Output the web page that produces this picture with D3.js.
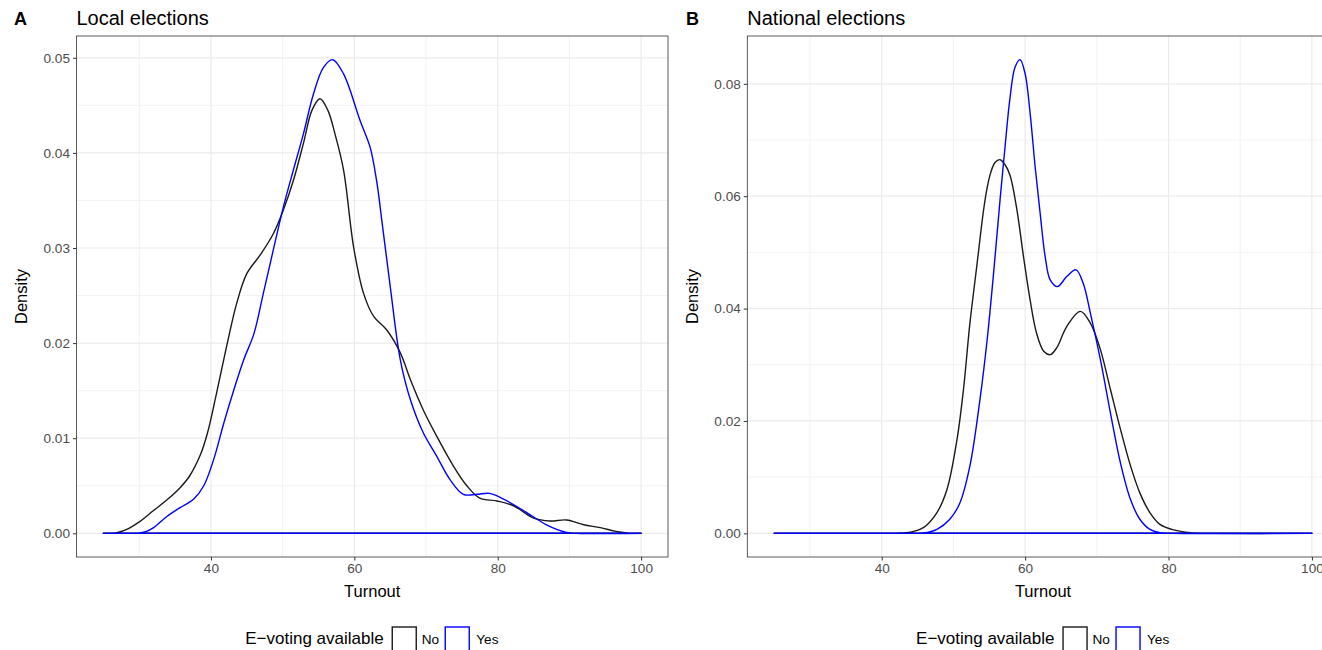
<!DOCTYPE html>
<html>
<head>
<meta charset="utf-8">
<script src="https://cdn.jsdelivr.net/npm/d3@7"></script>
<style>
  html, body { margin: 0; padding: 0; background: #fff; }
  svg { display: block; }
  text { font-family: "Liberation Sans", Arial, Helvetica, sans-serif; }
</style>
</head>
<body>
<svg id="chart" width="1322" height="650"></svg>
<script>
// ---------- data ----------
const groups = ["No", "Yes"];
const groupColors = ["#1a1a1a", "#0000ff"];
const xTicks = [40, 60, 80, 100];
const xMinorTicks = [30, 50, 70, 90];
const localYTicks = [0, 0.01, 0.02, 0.03, 0.04, 0.05];
const nationalYTicks = [0, 0.02, 0.04, 0.06, 0.08];

// Local elections - No
const localNoTurnout = [25, 27, 28.5, 30, 32, 34, 35.7, 37, 38.5, 39.5, 40.8, 42.2, 43.6, 45, 46.9, 48.7, 50.1, 51.5, 52.9, 54.1, 55.2, 56.3, 57.3, 58.5, 59.9, 61.3, 62.7, 64.5, 66.4, 67.8, 69.6, 71.5, 73.8, 75.7, 77.5, 79.9, 82.2, 85, 87.3, 89.6, 92, 94.3, 96.5, 98, 100];
const localNoDensity = [0, 0.0001, 0.0005, 0.0012, 0.0024, 0.0036, 0.0048, 0.006, 0.0082, 0.0105, 0.0148, 0.0197, 0.0242, 0.0273, 0.0293, 0.0315, 0.034, 0.0371, 0.041, 0.0445, 0.0457, 0.0445, 0.042, 0.0382, 0.0301, 0.0252, 0.0228, 0.0214, 0.019, 0.0162, 0.013, 0.0102, 0.0071, 0.005, 0.0037, 0.0034, 0.0029, 0.0016, 0.0013, 0.0014, 0.0009, 0.0006, 0.0002, 0.00005, 0];
// Local elections - Yes
const localYesTurnout = [25, 29, 30.1, 31, 32, 33.9, 35.7, 37.6, 39, 40.4, 41.8, 43.2, 44.6, 46, 47.3, 48.7, 50.1, 51.5, 52.9, 54.3, 55.7, 57, 58.5, 60.8, 62.2, 63.1, 64, 65, 66.4, 67.8, 69.6, 71.5, 73.3, 75.2, 77.1, 78.9, 81.3, 84, 86.8, 89.6, 91, 100];
const localYesDensity = [0, 0, 0.00005, 0.0002, 0.0006, 0.0018, 0.0027, 0.0036, 0.005, 0.0078, 0.0116, 0.0151, 0.0183, 0.021, 0.0252, 0.0298, 0.0343, 0.0382, 0.042, 0.0462, 0.049, 0.0498, 0.0483, 0.0434, 0.0406, 0.0371, 0.0319, 0.026, 0.0183, 0.0141, 0.0106, 0.0081, 0.0057, 0.0041, 0.0041, 0.0042, 0.0034, 0.0022, 0.0009, 0.0001, 0, 0];

// National elections - No
const nationalNoTurnout = [25, 40, 42, 44, 45.8, 47.7, 49.1, 50.5, 51.4, 52.3, 53.3, 54.2, 54.7, 55.2, 55.8, 56.5, 57.2, 57.9, 58.8, 59.8, 60.7, 61.6, 62.6, 63.5, 64.4, 65.8, 67.7, 69.1, 70.5, 71.9, 73.3, 74.7, 76, 77.4, 78.8, 80.7, 83, 86, 100];
const nationalNoDensity = [0, 0, 0.00003, 0.0002, 0.001, 0.0037, 0.0078, 0.0167, 0.0256, 0.0374, 0.048, 0.0575, 0.0615, 0.0642, 0.066, 0.0665, 0.0656, 0.0637, 0.058, 0.049, 0.0415, 0.0356, 0.0324, 0.0318, 0.033, 0.0368, 0.0395, 0.0374, 0.0327, 0.0256, 0.0185, 0.012, 0.0072, 0.0037, 0.0016, 0.0006, 0.0001, 0, 0];
// National elections - Yes
const nationalYesTurnout = [25, 44, 45.8, 47.7, 49.5, 50.9, 52.3, 53.7, 54.7, 55.6, 56.5, 57.2, 57.9, 58.6, 59.3, 60, 60.7, 61.4, 62.1, 62.8, 63.5, 64.5, 65.8, 67.1, 68.1, 69.1, 70.5, 71.9, 73.3, 74.7, 76, 77.4, 78.8, 80.5, 100];
const nationalYesDensity = [0, 0, 0.00005, 0.0007, 0.0025, 0.0054, 0.012, 0.0238, 0.0344, 0.0463, 0.0593, 0.0688, 0.0776, 0.083, 0.0843, 0.0818, 0.0747, 0.0652, 0.0569, 0.0492, 0.0451, 0.0439, 0.0457, 0.0469, 0.0445, 0.0392, 0.0309, 0.0214, 0.0125, 0.006, 0.0025, 0.0007, 0.0001, 0, 0];

// ---------- drawing ----------
const svg = d3.select("#chart");
const FONT_TICK = 13.6, FONT_AXIS = 16.5, FONT_TITLE = 20;

function drawPanel(opts) {
  const { left, right, top, bottom, tag, tagX, title, yTicks, yMinor, yFmt, series } = opts;
  const allY = series.flatMap(s => s.y);
  const ymax = d3.max(allY);
  const x = d3.scaleLinear().domain([25 - 0.05 * 75, 100 + 0.05 * 75]).range([left, right]);
  const y = d3.scaleLinear().domain([-0.05 * ymax, ymax * 1.05]).range([bottom, top]);

  const g = svg.append("g");

  // grid minor
  g.append("g").selectAll("line").data(xMinorTicks).join("line")
    .attr("x1", d => x(d)).attr("x2", d => x(d)).attr("y1", top).attr("y2", bottom)
    .attr("stroke", "#f2f2f2").attr("stroke-width", 1);
  g.append("g").selectAll("line").data(yMinor).join("line")
    .attr("x1", left).attr("x2", right).attr("y1", d => y(d)).attr("y2", d => y(d))
    .attr("stroke", "#f2f2f2").attr("stroke-width", 1);
  // grid major
  g.append("g").selectAll("line").data(xTicks).join("line")
    .attr("x1", d => x(d)).attr("x2", d => x(d)).attr("y1", top).attr("y2", bottom)
    .attr("stroke", "#ebebeb").attr("stroke-width", 1.2);
  g.append("g").selectAll("line").data(yTicks).join("line")
    .attr("x1", left).attr("x2", right).attr("y1", d => y(d)).attr("y2", d => y(d))
    .attr("stroke", "#ebebeb").attr("stroke-width", 1.2);

  // density curves (closed outline, as in ggplot geom_density)
  const line = d3.line().x(d => x(d[0])).y(d => y(Math.max(0, d[1]))).curve(d3.curveCatmullRom.alpha(0.5));
  series.forEach((s, i) => {
    const pts = s.x.map((v, k) => [v, s.y[k]]);
    const curve = line(pts);
    const base = `L${x(s.x[s.x.length - 1])},${y(0)}L${x(s.x[0])},${y(0)}Z`;
    g.append("path").attr("d", curve + base)
      .attr("fill", "none").attr("stroke", groupColors[i]).attr("stroke-width", 1.4)
      .attr("stroke-linejoin", "round");
  });

  // panel border
  g.append("rect").attr("x", left).attr("y", top)
    .attr("width", right - left).attr("height", bottom - top)
    .attr("fill", "none").attr("stroke", "#333333").attr("stroke-width", 0.8);

  // axes
  const xAxis = d3.axisBottom(x).tickValues(xTicks).tickSize(3.5).tickPadding(3).tickFormat(d3.format("d"));
  const ax = g.append("g").attr("transform", `translate(0,${bottom})`).call(xAxis);
  ax.select(".domain").remove();
  ax.selectAll("line").attr("stroke", "#333333").attr("stroke-width", 1);
  ax.selectAll("text").attr("fill", "#4d4d4d").attr("font-size", FONT_TICK)
    .attr("font-family", "Liberation Sans, Arial, sans-serif");

  const yAxis = d3.axisLeft(y).tickValues(yTicks).tickSize(3.5).tickPadding(3).tickFormat(yFmt);
  const ay = g.append("g").attr("transform", `translate(${left},0)`).call(yAxis);
  ay.select(".domain").remove();
  ay.selectAll("line").attr("stroke", "#333333").attr("stroke-width", 1);
  ay.selectAll("text").attr("fill", "#4d4d4d").attr("font-size", FONT_TICK)
    .attr("font-family", "Liberation Sans, Arial, sans-serif");

  // axis titles
  const cx = (left + right) / 2;
  const cy = (top + bottom) / 2;
  g.append("text").attr("x", cx).attr("y", 597).attr("text-anchor", "middle")
    .attr("font-size", FONT_AXIS).attr("fill", "#000").text("Turnout");
  g.append("text").attr("transform", `translate(${left - 49.5},${cy}) rotate(-90)`)
    .attr("text-anchor", "middle").attr("font-size", FONT_AXIS).attr("fill", "#000").text("Density");

  // titles
  g.append("text").attr("x", tagX).attr("y", 25).attr("font-size", 18).attr("font-weight", "bold")
    .attr("fill", "#000").text(tag);
  g.append("text").attr("x", left).attr("y", 25).attr("font-size", FONT_TITLE)
    .attr("fill", "#000").text(title);

  // legend
  const lg = g.append("g");
  const lx = cx - 127;
  lg.append("text").attr("x", lx).attr("y", 644.3).attr("font-size", 17).attr("fill", "#000")
    .text("E\u2212voting available");
  const keyX = [lx + 147, lx + 200];
  const labX = [lx + 176.5, lx + 231];
  groups.forEach((gname, i) => {
    lg.append("rect").attr("x", keyX[i]).attr("y", 627).attr("width", 24).attr("height", 24)
      .attr("fill", "#fff").attr("stroke", groupColors[i]).attr("stroke-width", 1.4);
    lg.append("text").attr("x", labX[i]).attr("y", 644.3).attr("font-size", FONT_TICK)
      .attr("fill", "#000").text(gname);
  });
}

drawPanel({
  left: 76.5, right: 668, top: 36, bottom: 557,
  tag: "A", tagX: 14, title: "Local elections",
  yTicks: localYTicks, yMinor: [0.005, 0.015, 0.025, 0.035, 0.045],
  yFmt: d3.format(".2f"),
  series: [
    { x: localNoTurnout, y: localNoDensity },
    { x: localYesTurnout, y: localYesDensity }
  ]
});

drawPanel({
  left: 747.3, right: 1338.8, top: 36, bottom: 557,
  tag: "B", tagX: 686, title: "National elections",
  yTicks: nationalYTicks, yMinor: [0.01, 0.03, 0.05, 0.07],
  yFmt: d3.format(".2f"),
  series: [
    { x: nationalNoTurnout, y: nationalNoDensity },
    { x: nationalYesTurnout, y: nationalYesDensity }
  ]
});
</script>
</body>
</html>
